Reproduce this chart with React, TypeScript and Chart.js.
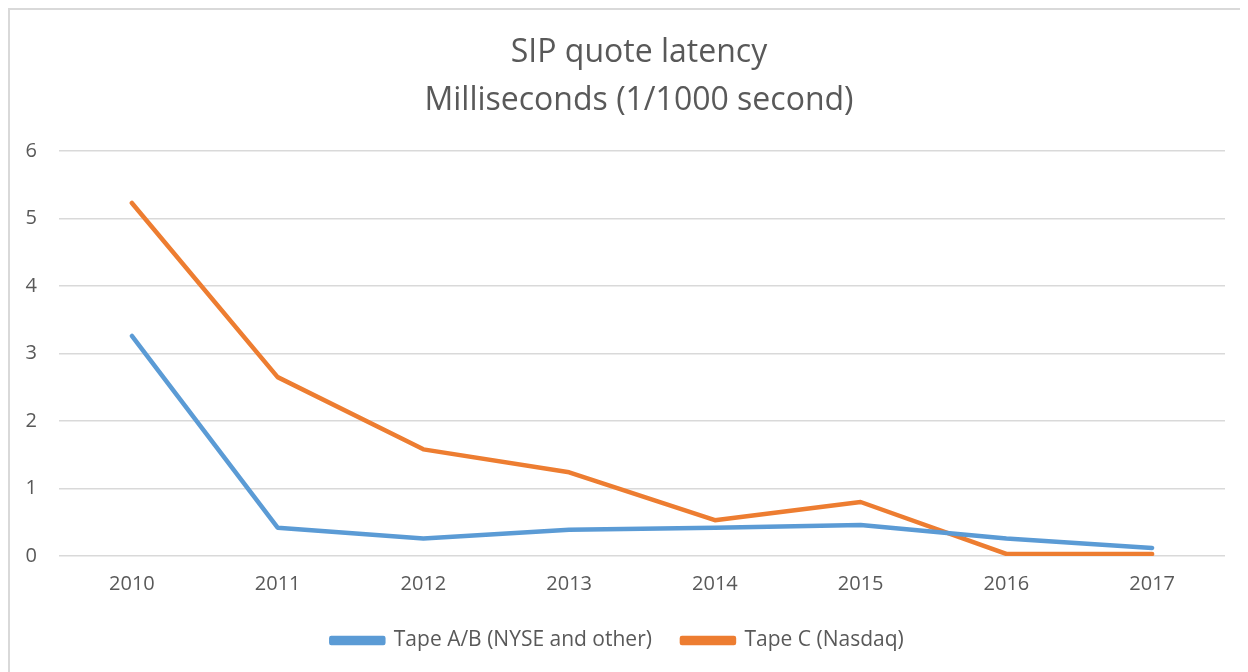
import React, { useEffect, useRef } from "react";
import { Chart, registerables } from "chart.js";

Chart.register(...registerables);

const years = ["2010", "2011", "2012", "2013", "2014", "2015", "2016", "2017"];
const tapeAB = [3.26, 0.42, 0.26, 0.39, 0.42, 0.46, 0.26, 0.12];
const tapeC = [5.23, 2.65, 1.58, 1.24, 0.53, 0.8, 0.03, 0.03];
const titleLines = ["SIP quote latency", "Milliseconds (1/1000 second)"];
const seriesNames = ["Tape A/B (NYSE and other)", "Tape C (Nasdaq)"];

const FONT = "'Open Sans', sans-serif";
const TEXT = "#595959";

export default function App() {
  const ref = useRef<HTMLCanvasElement | null>(null);
  useEffect(() => {
    if (!ref.current) return;
    const titlePlugin = {
      id: "customTitle",
      afterDraw(chart: any) {
        const ctx = chart.ctx;
        ctx.save();
        ctx.fillStyle = TEXT;
        ctx.font = `32px ${FONT}`;
        ctx.textAlign = "center";
        ctx.textBaseline = "middle";
        const cx = (chart.chartArea.left + chart.chartArea.right) / 2 - 3;
        ctx.fillText(titleLines[0], cx, 43);
        ctx.fillText(titleLines[1], cx, 91);
        ctx.restore();
      },
    };
    const chart = new Chart(ref.current, {
      type: "line",
      data: {
        labels: years,
        datasets: [
          {
            label: seriesNames[0],
            data: tapeAB,
            borderColor: "#5B9BD5",
            backgroundColor: "#5B9BD5",
            borderWidth: 4.5,
            pointRadius: 0,
            borderCapStyle: "round",
            borderJoinStyle: "round",
            tension: 0,
          },
          {
            label: seriesNames[1],
            data: tapeC,
            borderColor: "#ED7D31",
            backgroundColor: "#ED7D31",
            borderWidth: 4.5,
            pointRadius: 0,
            borderCapStyle: "round",
            borderJoinStyle: "round",
            tension: 0,
          },
        ],
      },
      options: {
        animation: false,
        responsive: false,
        layout: { padding: { top: 141, right: 19, left: 0, bottom: 15 } },
        plugins: {
          title: { display: false },
          tooltip: { enabled: false },
          legend: {
            position: "bottom",
            labels: {
              color: TEXT,
              font: { family: FONT, size: 21 },
              boxWidth: 52,
              boxHeight: 5,
              padding: 30,
            },
          },
        },
        scales: {
          x: {
            offset: true,
            grid: { display: false, drawTicks: false },
            border: { display: false },
            ticks: { color: TEXT, font: { family: FONT, size: 20 }, padding: 16, maxRotation: 0 },
            afterFit(scale: any) {
              scale.height = 44;
            },
          },
          y: {
            min: 0,
            max: 6,
            grid: { color: "#d9d9d9", lineWidth: 1.5, drawTicks: false },
            border: { display: false },
            ticks: { stepSize: 1, color: TEXT, font: { family: FONT, size: 20 }, padding: 22 },
            afterFit(scale: any) {
              scale.width = 49;
            },
          },
        },
      },
      plugins: [titlePlugin],
    });
    return () => chart.destroy();
  }, []);
  return (
    <div
      style={{
        width: 1238,
        height: 670,
        boxSizing: "border-box",
        border: "2px solid #d9d9d9",
        background: "#fff",
      }}
    >
      <canvas ref={ref} width={1234} height={666} style={{ display: "block" }} />
    </div>
  );
}
